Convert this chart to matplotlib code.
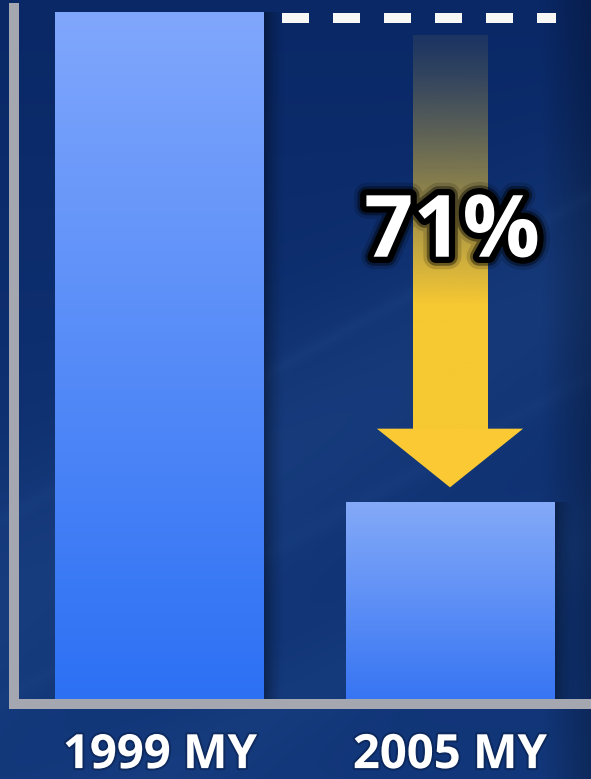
import numpy as np
import matplotlib
matplotlib.use("Agg")
import matplotlib.pyplot as plt
from matplotlib.colors import to_rgb
from matplotlib.patches import Polygon
from matplotlib.transforms import ScaledTranslation
import matplotlib.patheffects as pe

# ---- data -------------------------------------------------------------
categories = ["1999 MY", "2005 MY"]
values = [100, 29]

W, H = 591, 779
DPI = 100
FONT = ["Open Sans", "DejaVu Sans"]

fig = plt.figure(figsize=(W / DPI, H / DPI), dpi=DPI)

# ---- navy backdrop with soft diagonal light streaks -------------------
bg = fig.add_axes([0, 0, 1, 1], zorder=0)
bg.set_axis_off()
Y, X = np.mgrid[0:H, 0:W].astype(float)
top = np.array(to_rgb("#0a2866"))
bottom = np.array(to_rgb("#12377a"))
t = (Y / H)[..., None]
img = top * (1 - t) + bottom * t
d = Y + 0.55 * X
glow = 0.8 * np.exp(-((d - 600) / 120) ** 2) + 0.5 * np.exp(-((d - 860) / 50) ** 2)
streak = 0.35 * np.exp(-((d - 520) / 8) ** 2) + 0.3 * np.exp(-((d - 700) / 10) ** 2)
light = np.array(to_rgb("#2a5494"))
w = (0.35 * glow + 0.3 * streak)[..., None]
img = img * (1 - w) + light * w
edge = np.clip((X - 540) / 51, 0, 1)[..., None]
img = img * (1 - 0.25 * edge)
bg.imshow(img, extent=[0, 1, 0, 1], aspect="auto", origin="upper")
bg.set_xlim(0, 1)
bg.set_ylim(0, 1)

# ---- main chart axes ---------------------------------------------------
ax = fig.add_axes([14 / W, (H - 703.5) / H, (W - 14) / W, (703.5 - 8) / H], zorder=1)
ax.patch.set_visible(False)

x = np.arange(len(values))
bars = ax.bar(x, values, width=0.72, color="none", edgecolor="none", zorder=2)

grad_top = ["#80a7fc", "#84aaf8"]
grad_bot = ["#2c70f4", "#3674f3"]
for b, ct, cb in zip(bars, grad_top, grad_bot):
    s = np.linspace(0, 1, 256)[:, None, None]
    col = np.array(to_rgb(ct)) * (1 - s) + np.array(to_rgb(cb)) * s
    x0 = b.get_x()
    x1 = x0 + b.get_width()
    h = b.get_height()
    ax.imshow(col, extent=[x0, x1, 0, h], origin="upper", aspect="auto", zorder=2)
    # soft shadow on the right side of each bar
    sh = np.zeros((1, 64, 4))
    sh[..., 3] = np.linspace(0.5, 0, 64) ** 1.5
    ax.imshow(sh, extent=[x1, x1 + 0.07, 0, h], origin="upper", aspect="auto", zorder=1.5)

# reference level of the first bar, drawn as a dashed line
off = ScaledTranslation(0, -5 / DPI, fig.dpi_scale_trans)
ln, = ax.plot([0.421, 1.366], [values[0], values[0]], color="#f7f7f5", lw=7.2,
              transform=ax.transData + off, zorder=3)
ln.set_dashes([2.7, 2.4])
ln.set_dash_capstyle("butt")

# ---- yellow arrow showing the reduction -------------------------------
cx = x[1]
tip = values[1] + 2.3
head_base = tip + 8.5
shaft_top = values[0] - 3.2
shaft_hw, head_hw = 0.128, 0.252

n = 400
p = np.linspace(0, 1, n)
full_at = (shaft_top - 58) / (shaft_top - head_base)
alpha = 0.08 + 0.92 * np.clip(p / full_at, 0, 1) ** 1.2
shaft = np.zeros((n, 1, 4))
shaft[..., :3] = to_rgb("#f6c832")
shaft[:, 0, 3] = alpha
ax.imshow(shaft, extent=[cx - shaft_hw, cx + shaft_hw, head_base, shaft_top],
          origin="upper", aspect="auto", zorder=2.5)
head = Polygon([[cx - head_hw, head_base], [cx + head_hw, head_base], [cx, tip]],
               closed=True, facecolor="#fbc933", edgecolor="none", zorder=2.5)
ax.add_patch(head)

pct = f"{round((1 - values[1] / values[0]) * 100)}%"
ax.text(cx + 0.007, 64.7, pct, ha="center", va="baseline", fontsize=62,
        fontweight="bold", family=FONT, color="white", zorder=4,
        path_effects=[pe.Stroke(linewidth=18, foreground="black", alpha=0.15),
                      pe.Stroke(linewidth=13, foreground="black", alpha=0.4),
                      pe.Stroke(linewidth=9, foreground="black"),
                      pe.Normal()])

# ---- category labels ----------------------------------------------------
for xi, lab in zip(x, categories):
    ax.annotate(lab, (xi, 0), xytext=(0, -46.5), textcoords="offset points",
                ha="center", va="baseline", fontsize=34, fontweight="bold",
                family=FONT, color="white", annotation_clip=False,
                path_effects=[pe.Stroke(linewidth=3, foreground="#06163a", alpha=0.4),
                              pe.Normal()])

# ---- axes styling -------------------------------------------------------
for side in ("top", "right"):
    ax.spines[side].set_visible(False)
for side in ("left", "bottom"):
    ax.spines[side].set_color("#a4a7af")
    ax.spines[side].set_linewidth(7.2)
    ax.spines[side].set_zorder(3)
ax.spines["bottom"].set_capstyle("projecting")
ax.set_xticks([])
ax.set_yticks([])
ax.set_xlim(-0.503, 1.486)
ax.set_ylim(0, 100.72)

fig.savefig("out.png", dpi=DPI)
